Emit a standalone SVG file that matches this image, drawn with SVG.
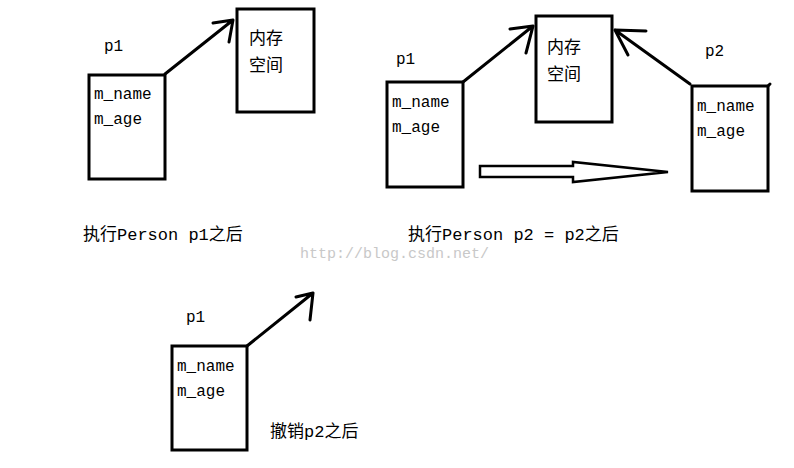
<svg xmlns="http://www.w3.org/2000/svg" width="794" height="468" viewBox="0 0 794 468">
<style>
.b{fill:none;stroke:#000;stroke-width:3}
.l{fill:none;stroke:#000;stroke-width:3;stroke-linecap:round;stroke-linejoin:round}
text{font-family:"Liberation Mono","Noto Sans CJK SC",monospace;font-size:16px;fill:#000}
.c{font-family:"Noto Sans CJK SC",sans-serif;font-size:17px}
.m{font-family:"Liberation Mono","Noto Sans CJK SC",monospace;font-size:17px}
.w{font-size:15px;fill:#c8c8c8}
</style>
<rect width="794" height="468" fill="#fff"/>
<g id="a-p1">
<text x="104" y="51">p1</text>
<rect class="b" x="89" y="75" width="76" height="104"/>
<text x="94" y="99">m_name</text><text x="94" y="124">m_age</text>
</g>
<g id="a-mem">
<rect class="b" x="237" y="9" width="77" height="103"/>
<text class="c" x="249" y="44">内存</text><text class="c" x="249" y="71">空间</text>
</g>
<text x="83" y="240" class="m">执行Person p1之后</text>
<g id="b-p1">
<text x="396" y="64">p1</text>
<rect class="b" x="387" y="82" width="76" height="105"/>
<text x="392" y="107">m_name</text><text x="392" y="132">m_age</text>
</g>
<g id="b-mem">
<rect class="b" x="536" y="16" width="76" height="106"/>
<text class="c" x="547" y="53">内存</text><text class="c" x="547" y="80">空间</text>
</g>
<g id="b-p2">
<text x="705" y="56">p2</text>
<rect class="b" x="692" y="86" width="76" height="105"/>
<text x="697" y="111">m_name</text><text x="697" y="136">m_age</text>
</g>
<text x="408" y="240" class="m">执行Person p2 = p2之后</text>
<text class="w" x="300" y="258">http://blog.csdn.net/</text>
<g id="c-p1">
<text x="186" y="322">p1</text>
<rect class="b" x="172" y="346" width="75" height="104"/>
<text x="177" y="371">m_name</text><text x="177" y="396">m_age</text>
</g>
<text x="270" y="437" class="m">撤销p2之后</text>
<g id="connectors">
<path class="l" d="M165 74 L233 20 M213 23 L233 20 L229 42"/>
<path class="l" d="M463 82 L533 26 M510 29 L533 26 L526 53"/>
<path class="l" d="M690 84 L615 30 M646 31 L615 30 L628 55"/>
<path class="l" d="M247 346 L313 293 M296 297 L313 293 L310 320"/>
<path fill="none" stroke="#000" stroke-width="2.5" d="M480 166 L573 166 L573 162 L668 172 L573 182 L573 177 L480 177 Z"/>
<path class="l" d="M768 86 L770 84"/>
</g>
</svg>
